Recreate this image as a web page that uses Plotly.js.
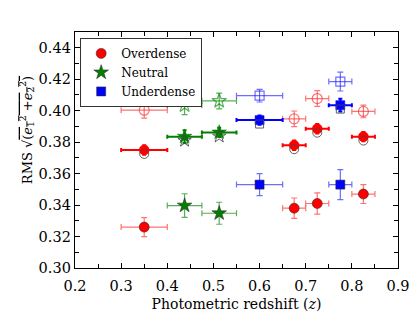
<!DOCTYPE html>
<html><head><meta charset="utf-8">
<script src="https://cdn.plot.ly/plotly-3.0.1.min.js"></script>
<style>html,body{margin:0;padding:0;background:#fff}</style>
</head><body>
<div id="chart" style="width:415px;height:312px"></div>
<script>
// Overdense
const zOver = [0.35, 0.675, 0.725, 0.825];
const zOverErr = [0.05, 0.025, 0.025, 0.025];
const rmsOverLow = [0.326, 0.338, 0.341, 0.347];
const rmsOverLowErr = [0.006, 0.0065, 0.0068, 0.006];
const rmsOverMid = [0.375, 0.378, 0.3885, 0.3835];
const rmsOverMidErr = [0.003, 0.003, 0.003, 0.003];
const rmsOverHigh = [0.4003, 0.3948, 0.4077, 0.3995];
const rmsOverHighErr = [0.005, 0.005, 0.005, 0.004];
// Neutral
const zNeut = [0.4375, 0.5125];
const zNeutErr = [0.0375, 0.0375];
const rmsNeutLow = [0.3397, 0.3348];
const rmsNeutLowErr = [0.0075, 0.007];
const rmsNeutMid = [0.3835, 0.3862];
const rmsNeutMidErr = [0.004, 0.003];
const rmsNeutHigh = [0.4035, 0.4062];
const rmsNeutHighErr = [0.006, 0.005];
// Underdense
const zUnder = [0.60, 0.775];
const zUnderErr = [0.05, 0.025];
const rmsUnderLow = [0.353, 0.353];
const rmsUnderLowErr = [0.007, 0.0095];
const rmsUnderMid = [0.394, 0.4035];
const rmsUnderMidErr = [0.003, 0.004];
const rmsUnderHigh = [0.4095, 0.4185];
const rmsUnderHighErr = [0.004, 0.006];

const shadowShift = 0.0025;
const FONT = "'DejaVu Serif', serif";

function eb(arr, color, thick, width) {
  return {type: 'data', array: arr, visible: true, color: color, thickness: thick, width: width};
}

function group(name, x, xe, low, lowE, mid, midE, high, highE, col, light, sym, size) {
  const traces = [];
  traces.push({
    x: x, y: high, mode: 'markers', type: 'scatter', showlegend: false,
    marker: {symbol: sym + '-open', size: size, color: light, line: {color: light, width: 1.2}},
    error_x: eb(xe, light, 1.2, 3), error_y: eb(highE, light, 1.2, 3)
  });
  traces.push({
    x: x, y: mid, mode: 'markers', type: 'scatter', showlegend: false,
    marker: {symbol: sym, size: size, color: col, line: {color: col, width: 0.5}},
    error_x: eb(xe, col, 2, 2), error_y: eb(midE, col, 2, 2)
  });
  traces.push({
    x: x, y: mid.map(v => v - shadowShift), mode: 'markers', type: 'scatter', showlegend: false,
    marker: {symbol: sym + '-open', size: size - 1, color: 'rgba(70,70,70,0.85)', line: {color: 'rgba(70,70,70,0.85)', width: 1}}
  });
  traces.push({
    x: x, y: low, mode: 'markers', type: 'scatter', name: name,
    marker: {symbol: sym, size: size, color: col, line: {color: 'rgba(40,40,40,0.8)', width: 0.7}},
    error_x: eb(xe, light, 1.2, 3), error_y: eb(lowE, light, 1.2, 3)
  });
  return traces;
}

const data = [].concat(
  group('Overdense', zOver, zOverErr, rmsOverLow, rmsOverLowErr, rmsOverMid, rmsOverMidErr, rmsOverHigh, rmsOverHighErr,
        '#ff0000', 'rgba(255,40,40,0.65)', 'circle', 10),
  group('Neutral', zNeut, zNeutErr, rmsNeutLow, rmsNeutLowErr, rmsNeutMid, rmsNeutMidErr, rmsNeutHigh, rmsNeutHighErr,
        '#007f00', 'rgba(0,130,0,0.65)', 'star', 11),
  group('Underdense', zUnder, zUnderErr, rmsUnderLow, rmsUnderLowErr, rmsUnderMid, rmsUnderMidErr, rmsUnderHigh, rmsUnderHighErr,
        '#0000ff', 'rgba(30,30,255,0.65)', 'square', 9)
);

const axisCommon = {
  showgrid: false, zeroline: false, showline: true, linecolor: '#000', linewidth: 1.2,
  mirror: 'allticks', ticks: 'inside', ticklen: 5, tickwidth: 1, tickcolor: '#000',
  tickfont: {family: FONT, size: 14.5, color: '#000'}
};

const yTitle = "RMS √<span style='text-decoration:overline'>(<i>e</i><sub>1</sub><sup>2</sup> +<i>e</i><sub>2</sub><sup>2</sup>)</span>";

const layout = {
  width: 415, height: 312,
  margin: {l: 75, r: 16.5, t: 32, b: 44.3},
  paper_bgcolor: '#fff', plot_bgcolor: '#fff',
  font: {family: FONT, color: '#000'},
  xaxis: Object.assign({}, axisCommon, {
    range: [0.2, 0.9], dtick: 0.1, tick0: 0.2, tickformat: '.1f', ticklabelstandoff: 4,
    minor: {dtick: 0.05, ticks: 'inside', ticklen: 4, tickcolor: '#000', showgrid: false},
    title: {text: 'Photometric redshift (<i>z</i>)', font: {family: FONT, size: 14}, standoff: 7}
  }),
  yaxis: Object.assign({}, axisCommon, {
    range: [0.30, 0.45], dtick: 0.02, tick0: 0.30, tickformat: '.2f',
    minor: {dtick: 0.01, ticks: 'inside', ticklen: 4, tickcolor: '#000', showgrid: false}
  }),
  annotations: [{
    text: yTitle, textangle: -90, showarrow: false,
    xref: 'paper', yref: 'paper', x: -0.148, y: 0.585, xanchor: 'center', yanchor: 'middle',
    font: {family: FONT, size: 13, color: '#000'}
  }],
  showlegend: true,
  legend: {
    x: 0.016, y: 0.975, xanchor: 'left', yanchor: 'top',
    bgcolor: '#fff', bordercolor: '#333', borderwidth: 1,
    font: {family: FONT, size: 12, color: '#000'},
    tracegroupgap: 0, itemwidth: 30
  }
};

Plotly.newPlot('chart', data, layout, {displayModeBar: false, staticPlot: true});
</script>
</body></html>
